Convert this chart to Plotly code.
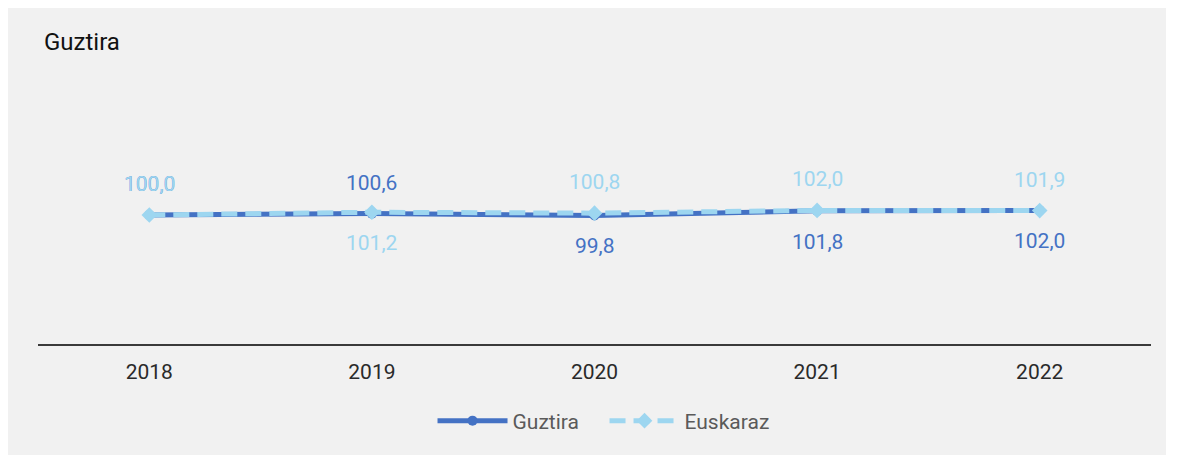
import plotly.graph_objects as go

years = ["2018", "2019", "2020", "2021", "2022"]
guztira = [100.0, 100.6, 99.8, 101.8, 102.0]
euskaraz = [100.0, 101.2, 100.8, 102.0, 101.9]
guztira_pos = ["top", "top", "bottom", "bottom", "bottom"]
euskaraz_pos = ["top", "bottom", "top", "top", "top"]

DARK = "#4472C4"
LIGHT = "#9DD6F0"
FONT = "Roboto"

W, H = 1158, 447

fig = go.Figure()
fig.add_trace(go.Scatter(
    x=years, y=guztira, name="Guztira", mode="lines+markers",
    line=dict(color=DARK, width=5),
    marker=dict(symbol="circle", size=10, color=DARK),
))
fig.add_trace(go.Scatter(
    x=years, y=euskaraz, name="Euskaraz", mode="lines+markers",
    line=dict(color=LIGHT, width=5, dash="16px,8px"),
    marker=dict(symbol="diamond", size=12, color=LIGHT),
))

def fmt(v):
    return f"{v:.1f}".replace(".", ",")

for vals, pos, col in [(guztira, guztira_pos, DARK), (euskaraz, euskaraz_pos, LIGHT)]:
    for i, (v, p) in enumerate(zip(vals, pos)):
        fig.add_annotation(
            x=i, y=v, xref="x", yref="y", text=fmt(v), showarrow=False,
            yshift=31 if p == "top" else -31,
            font=dict(family=FONT, size=21, color=col),
        )

fig.update_layout(
    width=W, height=H,
    paper_bgcolor="#F1F1F1", plot_bgcolor="#F1F1F1",
    margin=dict(l=30, r=15, t=78, b=111, pad=0),
    title=dict(text="Guztira", x=36 / W, xanchor="left", y=1 - 34 / H, yanchor="middle",
               font=dict(family=FONT, size=24, color="#111111")),
    showlegend=True,
    legend=dict(orientation="h", x=0.509, xanchor="center", yref="container",
                y=1 - 413 / H, yanchor="middle", itemwidth=70, entrywidth=87,
                font=dict(family=FONT, size=21, color="#5A5A5A"),
                bgcolor="rgba(0,0,0,0)"),
    xaxis=dict(type="category", range=[-0.5, 4.5], showgrid=False, zeroline=False,
               showline=True, linecolor="#3A3A3A", linewidth=2, ticks="",
               ticklabelstandoff=8,
               tickfont=dict(family=FONT, size=21, color="#2A2A2A")),
    yaxis=dict(range=[44, 156], visible=False, showgrid=False, zeroline=False),
)

fig.write_html("out.html")
